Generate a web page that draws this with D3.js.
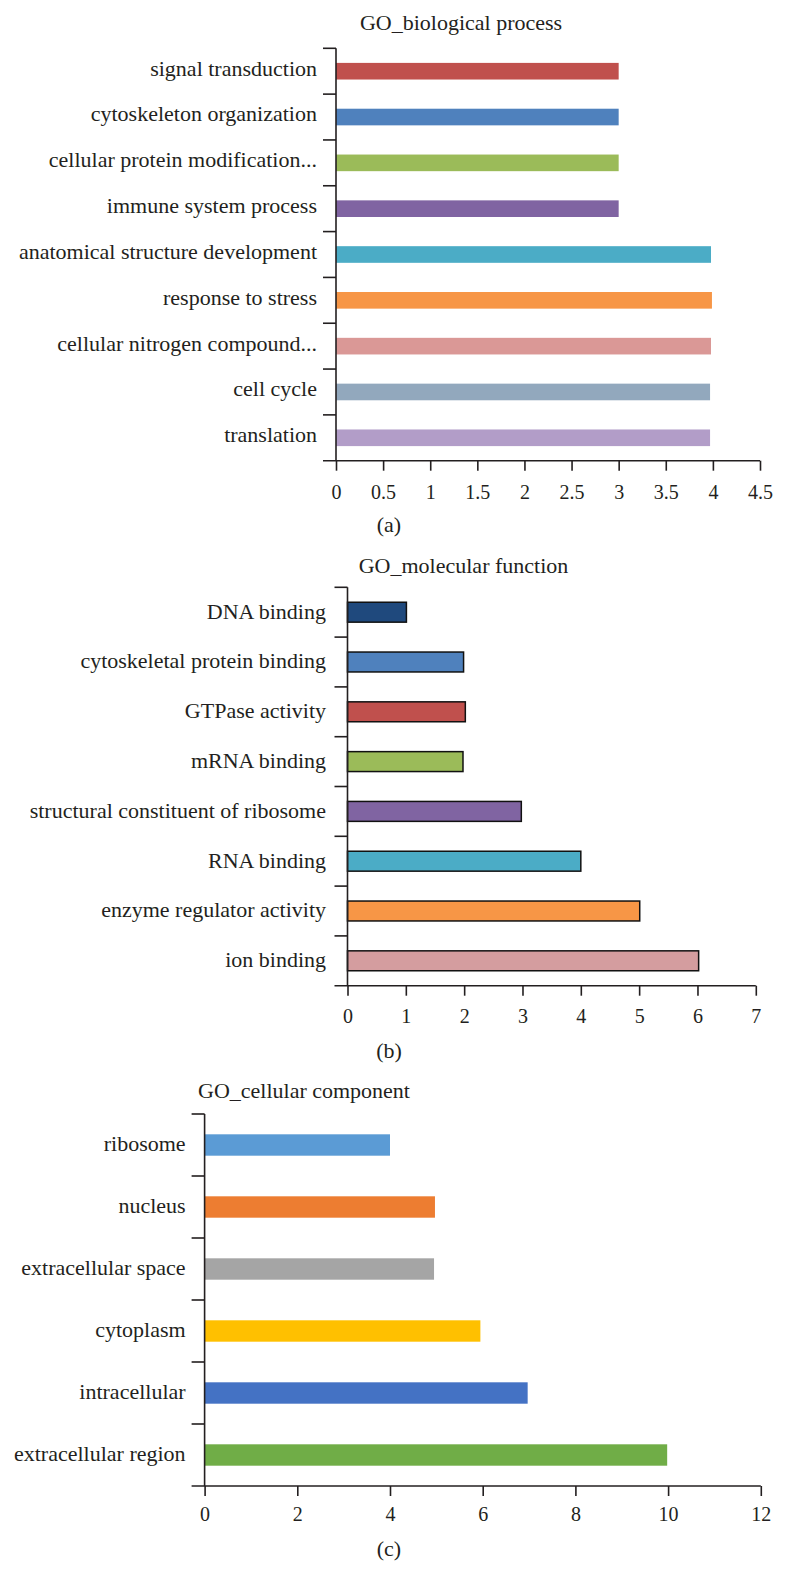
<!DOCTYPE html>
<html><head><meta charset="utf-8">
<script src="https://cdn.jsdelivr.net/npm/d3@7/dist/d3.min.js"></script>
<style>
html,body{margin:0;padding:0;background:#fff;}
svg{display:block;}
text{font-family:"Liberation Serif","Times New Roman",serif;fill:#231f20;}
</style></head>
<body>
<svg id="c" width="786" height="1594"></svg>
<script>
// ---- Data ----
const bpCategories = ["signal transduction","cytoskeleton organization","cellular protein modification...","immune system process","anatomical structure development","response to stress","cellular nitrogen compound...","cell cycle","translation"];
const bpValues = [3, 3, 3, 3, 3.98, 3.99, 3.98, 3.97, 3.97];
const bpColors = ["#c0504d","#4f81bd","#9bbb59","#8064a2","#4bacc6","#f79646","#da9896","#92a8bd","#b29dc8"];
const bpTicks = [0,0.5,1,1.5,2,2.5,3,3.5,4,4.5];
const bpTickLabels = ["0","0.5","1","1.5","2","2.5","3","3.5","4","4.5"];

const mfCategories = ["DNA binding","cytoskeletal protein binding","GTPase activity","mRNA binding","structural constituent of ribosome","RNA binding","enzyme regulator activity","ion binding"];
const mfValues = [1.01, 1.99, 2.02, 1.98, 2.98, 4, 5.01, 6.02];
const mfColors = ["#1f497d","#4f81bd","#c0504d","#9bbb59","#8064a2","#4bacc6","#f79646","#d49d9f"];
const mfTicks = [0,1,2,3,4,5,6,7];
const mfTickLabels = ["0","1","2","3","4","5","6","7"];

const ccCategories = ["ribosome","nucleus","extracellular space","cytoplasm","intracellular","extracellular region"];
const ccValues = [4, 4.97, 4.95, 5.95, 6.97, 9.98];
const ccColors = ["#5b9bd5","#ed7d31","#a5a5a5","#ffc000","#4472c4","#70ad47"];
const ccTicks = [0,2,4,6,8,10,12];
const ccTickLabels = ["0","2","4","6","8","10","12"];

const titles = ["GO_biological process","GO_molecular function","GO_cellular component"];
const panelLabels = ["(a)","(b)","(c)"];

// ---- Drawing ----
const svg = d3.select("#c");
const AX = "#231f20";

function panel(cfg){
  const g = svg.append("g");
  const n = cfg.cats.length;
  const p = cfg.pad;
  const y = d3.scaleBand().domain(cfg.cats).range([cfg.top, cfg.bottom]).paddingInner(p).paddingOuter(p/2);
  const x = d3.scaleLinear().domain([0, cfg.ticks[cfg.ticks.length-1]]).range([cfg.left, cfg.right]);
  const step = y.step();

  // bars
  g.selectAll("rect.bar").data(cfg.cats).join("rect")
    .attr("x", x(0))
    .attr("y", d => y(d))
    .attr("width", (d,i) => x(cfg.vals[i]) - x(0))
    .attr("height", y.bandwidth())
    .attr("fill", (d,i) => cfg.colors[i])
    .attr("stroke", cfg.stroke ? "#111" : "none")
    .attr("stroke-width", cfg.stroke ? 1.5 : 0);

  // category labels
  g.selectAll("text.cat").data(cfg.cats).join("text")
    .attr("x", x(0) - cfg.labelGap)
    .attr("y", d => y(d) + y.bandwidth()/2)
    .attr("dy", cfg.labelDy)
    .attr("text-anchor","end")
    .attr("font-size", 22)
    .text(d => d);

  // y axis line and boundary ticks
  g.append("line").attr("x1",x(0)).attr("x2",x(0)).attr("y1",cfg.top).attr("y2",cfg.bottom)
    .attr("stroke",AX).attr("stroke-width",1.6);
  const bounds = cfg.cats.map(d => y(d) - step*p/2);
  g.selectAll("line.yt").data(bounds).join("line")
    .attr("x1", x(0)-13).attr("x2", x(0))
    .attr("y1", d=>d).attr("y2", d=>d)
    .attr("stroke",AX).attr("stroke-width",1.6);

  // x axis
  const xa = d3.axisBottom(x).tickValues(cfg.ticks).tickSize(10).tickSizeOuter(0)
    .tickFormat((d,i) => cfg.tickLabels[i]);
  const ag = g.append("g").attr("transform",`translate(0,${cfg.bottom})`).call(xa);
  ag.select(".domain").remove();
  ag.selectAll(".tick line").attr("stroke",AX).attr("stroke-width",1.6);
  ag.selectAll(".tick text").attr("y", cfg.tickY).attr("dy",0)
    .attr("font-size",20).attr("font-family","Liberation Serif, Times New Roman, serif").attr("fill","#231f20");
  g.append("line").attr("x1",x(0)-13).attr("x2",x.range()[1]).attr("y1",cfg.bottom).attr("y2",cfg.bottom)
    .attr("stroke",AX).attr("stroke-width",1.6);

  // title
  g.append("text").attr("x",cfg.titleX).attr("y",cfg.titleY).attr("text-anchor","middle")
    .attr("font-size",22).text(cfg.title);
  // panel label
  g.append("text").attr("x",389).attr("y",cfg.subY).attr("text-anchor","middle")
    .attr("font-size",22).text(cfg.sub);
}

panel({cats:bpCategories, vals:bpValues, colors:bpColors, ticks:bpTicks, tickLabels:bpTickLabels,
  top:48.3, bottom:460.7, left:336, right:760, pad:0.637, stroke:false, labelGap:19, labelDy:"0.2em",
  tickY:38, title:titles[0], titleX:461, titleY:30, sub:panelLabels[0], subY:532});

panel({cats:mfCategories, vals:mfValues, colors:mfColors, ticks:mfTicks, tickLabels:mfTickLabels,
  top:587.3, bottom:985.7, left:347.5, right:755.8, pad:0.6, stroke:true, labelGap:21.5, labelDy:"0.29em",
  tickY:37, title:titles[1], titleX:463.5, titleY:573, sub:panelLabels[1], subY:1058});

panel({cats:ccCategories, vals:ccValues, colors:ccColors, ticks:ccTicks, tickLabels:ccTickLabels,
  top:1114, bottom:1486, left:204.6, right:760.8, pad:0.655, stroke:false, labelGap:19, labelDy:"0.25em",
  tickY:35, title:titles[2], titleX:304, titleY:1098, sub:panelLabels[2], subY:1556});
</script>
</body></html>
